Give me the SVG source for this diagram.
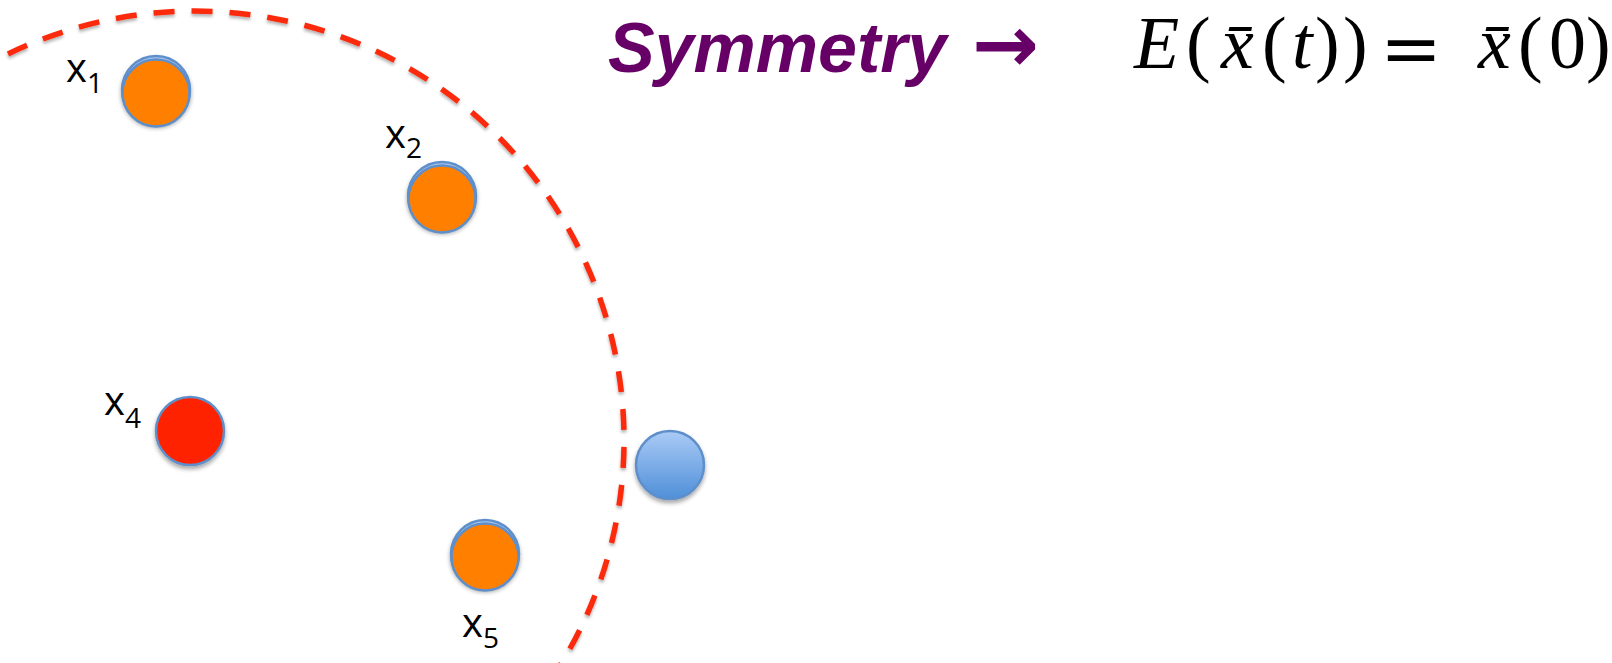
<svg xmlns="http://www.w3.org/2000/svg" width="1612" height="663" viewBox="0 0 1612 663">
  <defs>
    <style>
      .lbl { font-family: "Open Sans", "Liberation Sans", sans-serif; font-size: 40px; fill: #000; }
      .sub { font-size: 28px; }
      .dot { stroke: #5e8fcb; stroke-width: 2.5; }
      .orange { fill: #ff7f00; }
      .red { fill: #ff2400; }
      .rim { fill: #a9c8ee; stroke: #5e8fcb; stroke-width: 2.5; }
      .title { font-family: "Liberation Sans", Arial, sans-serif; font-weight: bold; font-style: italic; font-size: 70px; fill: #660066; }
      .math { font-family: "Liberation Serif", "Times New Roman", serif; font-size: 74px; fill: #000; }
      .it { font-style: italic; }
    </style>
    <linearGradient id="blueGrad" x1="0" y1="0" x2="0" y2="1">
      <stop offset="0" stop-color="#aacbf6"/>
      <stop offset="1" stop-color="#4f8fd8"/>
    </linearGradient>
    <filter id="shadow" x="-30%" y="-30%" width="160%" height="170%">
      <feDropShadow dx="0" dy="3" stdDeviation="2" flood-color="#000" flood-opacity="0.35"/>
    </filter>
    <filter id="dashShadow" x="-10%" y="-10%" width="120%" height="120%">
      <feDropShadow dx="0" dy="2.5" stdDeviation="1.5" flood-color="#000" flood-opacity="0.3"/>
    </filter>
  </defs>

  <rect width="1612" height="663" fill="#ffffff"/>

  <g id="boundary">
    <path d="M 8 54 A 429 429 0 0 1 554 675" fill="none" stroke="#fc2a0c" stroke-width="5.5" stroke-dasharray="21 17" filter="url(#dashShadow)"/>
  </g>

  <g id="connectors"></g>

  <g id="node-x1">
    <circle class="rim" cx="156" cy="90" r="34" filter="url(#shadow)"/>
    <circle class="dot orange" cx="156" cy="93" r="33.5"/>
    <text class="lbl" x="66" y="82">x<tspan class="sub" dy="11">1</tspan></text>
  </g>

  <g id="node-x2">
    <circle class="rim" cx="442" cy="196" r="34" filter="url(#shadow)"/>
    <circle class="dot orange" cx="442" cy="199" r="33.5"/>
    <text class="lbl" x="385" y="148">x<tspan class="sub" dy="10">2</tspan></text>
  </g>

  <g id="node-x4">
    <circle class="dot red" cx="190" cy="431" r="34" filter="url(#shadow)"/>
    <text class="lbl" x="104" y="415">x<tspan class="sub" dy="13">4</tspan></text>
  </g>

  <g id="node-x5">
    <circle class="rim" cx="485" cy="554" r="34" filter="url(#shadow)"/>
    <circle class="dot orange" cx="485" cy="557" r="33.5"/>
    <text class="lbl" x="462" y="637">x<tspan class="sub" dy="11">5</tspan></text>
  </g>

  <g id="node-blue">
    <circle class="dot" cx="670" cy="465" r="34" fill="url(#blueGrad)" filter="url(#shadow)"/>
  </g>

  <g id="title">
    <text class="title" x="608" y="72">Symmetry<tspan x="972" font-family="DejaVu Sans, sans-serif" font-style="normal" font-size="80">→</tspan></text>
  </g>

  <g id="equation">
    <text class="math" y="68"><tspan class="it" x="1134">E</tspan><tspan x="1186">(</tspan><tspan class="it" x="1221">x̄</tspan><tspan x="1262">(</tspan><tspan class="it" x="1292">t</tspan><tspan x="1315">)</tspan><tspan x="1343">)</tspan><tspan x="1380" font-family="DejaVu Serif, serif" dy="6">=</tspan><tspan class="it" x="1478" dy="-6">x̄</tspan><tspan x="1518">(</tspan><tspan x="1549">0</tspan><tspan x="1586">)</tspan></text>
  </g>
</svg>
